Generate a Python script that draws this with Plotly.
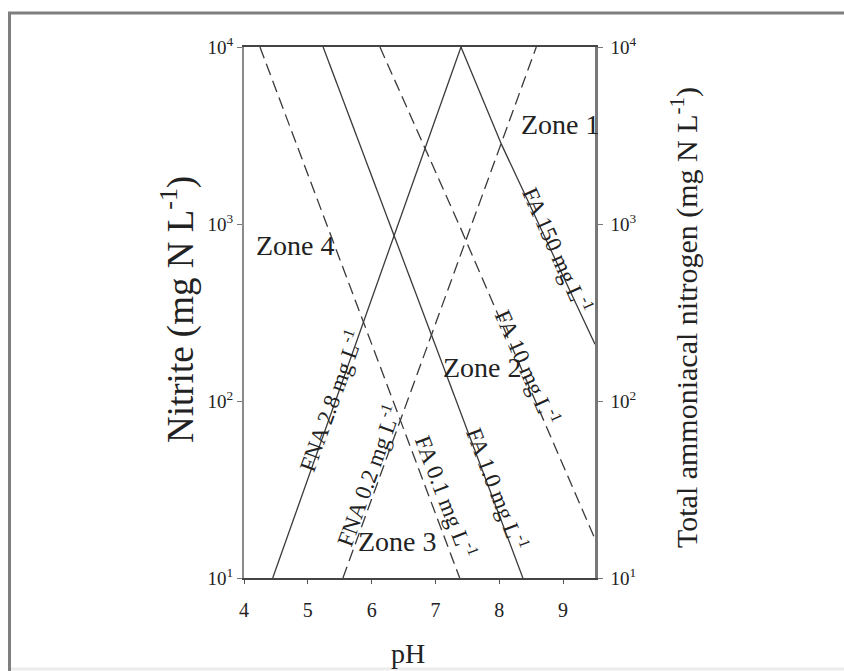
import plotly.graph_objects as go
import numpy as np

# ---- data ----
# lines: (pH, concentration) endpoints
fna28_ph = [4.45, 7.40]
fna28_val = [10, 10000]
fna02_ph = [5.55, 8.58]
fna02_val = [10, 10000]
fa01_ph = [4.25, 7.38]
fa01_val = [10000, 10]
fa1_ph = [5.24, 8.37]
fa1_val = [10000, 10]
fa10_ph = [6.13, 7.39, 9.5]
fa10_val = [10000, 955, 16.6]
fa150_ph = [7.40, 8.04, 9.5]
fa150_val = [10000, 2790, 209]

xticks = [4, 5, 6, 7, 8, 9]
ytick_vals = [10, 100, 1000, 10000]
ytick_text = ["10<sup>1</sup>", "10<sup>2</sup>", "10<sup>3</sup>", "10<sup>4</sup>"]

# labels: text, pH, value, angle
line_labels = [
    ("FNA 2.8 mg L<sup>-1</sup>", 5.35, 101, -70),
    ("FNA 0.2 mg L<sup>-1</sup>", 5.94, 38, -70),
    ("FA 0.1 mg L<sup>-1</sup>", 7.17, 29, 69),
    ("FA 1.0 mg L<sup>-1</sup>", 7.97, 32, 69),
    ("FA 10 mg L<sup>-1</sup>", 8.45, 155, 66),
    ("FA 150 mg L<sup>-1</sup>", 8.92, 710, 66),
]
zone_labels = [
    ("Zone 1", 8.96, 3630),
    ("Zone 4", 4.80, 760),
    ("Zone 2", 7.73, 155),
    ("Zone 3", 6.41, 16),
]

FONT = "Liberation Serif"
LC = "#3a3a3a"

L, R, T, B = 244, 595, 47, 578  # plot area in page pixels
PW, PH = R - L, B - T
FW, FH = 844, 671

def px(xp):
    return (xp - L) / PW

def py(yp):
    return (B - yp) / PH

fig = go.Figure()

def add_line(x, y, dash):
    fig.add_trace(go.Scatter(x=x, y=y, mode="lines",
                             line=dict(color=LC, width=1.3, dash=dash),
                             showlegend=False, hoverinfo="skip"))

add_line(fna28_ph, fna28_val, "solid")
add_line(fna02_ph, fna02_val, "12px,6px")
add_line(fa01_ph, fa01_val, "12px,6px")
add_line(fa1_ph, fa1_val, "solid")
add_line(fa10_ph, fa10_val, "12px,6px")
add_line(fa150_ph, fa150_val, "solid")

# invisible trace on secondary axis
fig.add_trace(go.Scatter(x=[4], y=[10], yaxis="y2", mode="markers",
                         marker=dict(opacity=0), showlegend=False, hoverinfo="skip"))

for txt, xv, yv, ang in line_labels:
    fig.add_annotation(x=xv, y=np.log10(yv), xref="x", yref="y", text=txt,
                       textangle=ang, showarrow=False,
                       xanchor="center", yanchor="middle",
                       font=dict(family=FONT, size=23, color="#222"))
for txt, xv, yv in zone_labels:
    fig.add_annotation(x=xv, y=np.log10(yv), xref="x", yref="y", text=txt,
                       showarrow=False, xanchor="center", yanchor="middle",
                       font=dict(family=FONT, size=28, color="#222"))

# axis titles
fig.add_annotation(x=px(178), y=py(310), xref="paper", yref="paper",
                   text="Nitrite (mg N L<sup>-1</sup>)", textangle=-90, showarrow=False,
                   xanchor="center", yanchor="middle",
                   font=dict(family=FONT, size=37, color="#222"))
fig.add_annotation(x=px(684), y=py(318), xref="paper", yref="paper",
                   text="Total ammoniacal nitrogen (mg N L<sup>-1</sup>)", textangle=-90,
                   showarrow=False, xanchor="center", yanchor="middle",
                   font=dict(family=FONT, size=30, color="#222"))
fig.add_annotation(x=px(408), y=py(653), xref="paper", yref="paper",
                   text="pH", showarrow=False, xanchor="center", yanchor="middle",
                   font=dict(family=FONT, size=28, color="#222"))

# frame around the picture
fig.add_shape(type="line", xref="paper", yref="paper",
              x0=px(9.5), x1=px(9.5), y0=py(12), y1=py(671),
              line=dict(color="#7f7f7f", width=3))
fig.add_shape(type="line", xref="paper", yref="paper",
              x0=px(8), x1=px(844), y0=py(13), y1=py(13),
              line=dict(color="#7f7f7f", width=3))
fig.add_shape(type="line", xref="paper", yref="paper",
              x0=px(11), x1=px(844), y0=py(669), y1=py(669),
              line=dict(color="#ececec", width=3))

fig.update_layout(
    width=FW, height=FH,
    margin=dict(l=L, r=FW - R, t=T, b=FH - B),
    paper_bgcolor="white", plot_bgcolor="white",
    font=dict(family=FONT, color="#222"),
    xaxis=dict(range=[4, 9.5], tickvals=xticks, ticks="outside", ticklen=4,
               tickcolor="#555", showline=True, linecolor="#444", linewidth=2,
               mirror=True, showgrid=False, zeroline=False, ticklabelstandoff=9,
               tickfont=dict(family=FONT, size=20, color="#222")),
    yaxis=dict(type="log", range=[1, 4], tickvals=ytick_vals, ticktext=ytick_text,
               ticks="outside", ticklen=5, tickcolor="#777", showline=True,
               linecolor="#8a8a8a", linewidth=2, showgrid=False, zeroline=False,
               tickfont=dict(family=FONT, size=19, color="#222")),
    yaxis2=dict(type="log", range=[1, 4], tickvals=ytick_vals, ticktext=ytick_text,
                overlaying="y", side="right", ticks="outside", ticklen=5,
                tickcolor="#777", showline=True, linecolor="#777", linewidth=2.5,
                showgrid=False, zeroline=False, ticklabelstandoff=4,
                tickfont=dict(family=FONT, size=19, color="#222")),
)

fig.write_html("out.html",
               config={"displayModeBar": False},
               post_script="document.body.style.margin='0';"
                           "document.body.style.overflow='hidden';")
